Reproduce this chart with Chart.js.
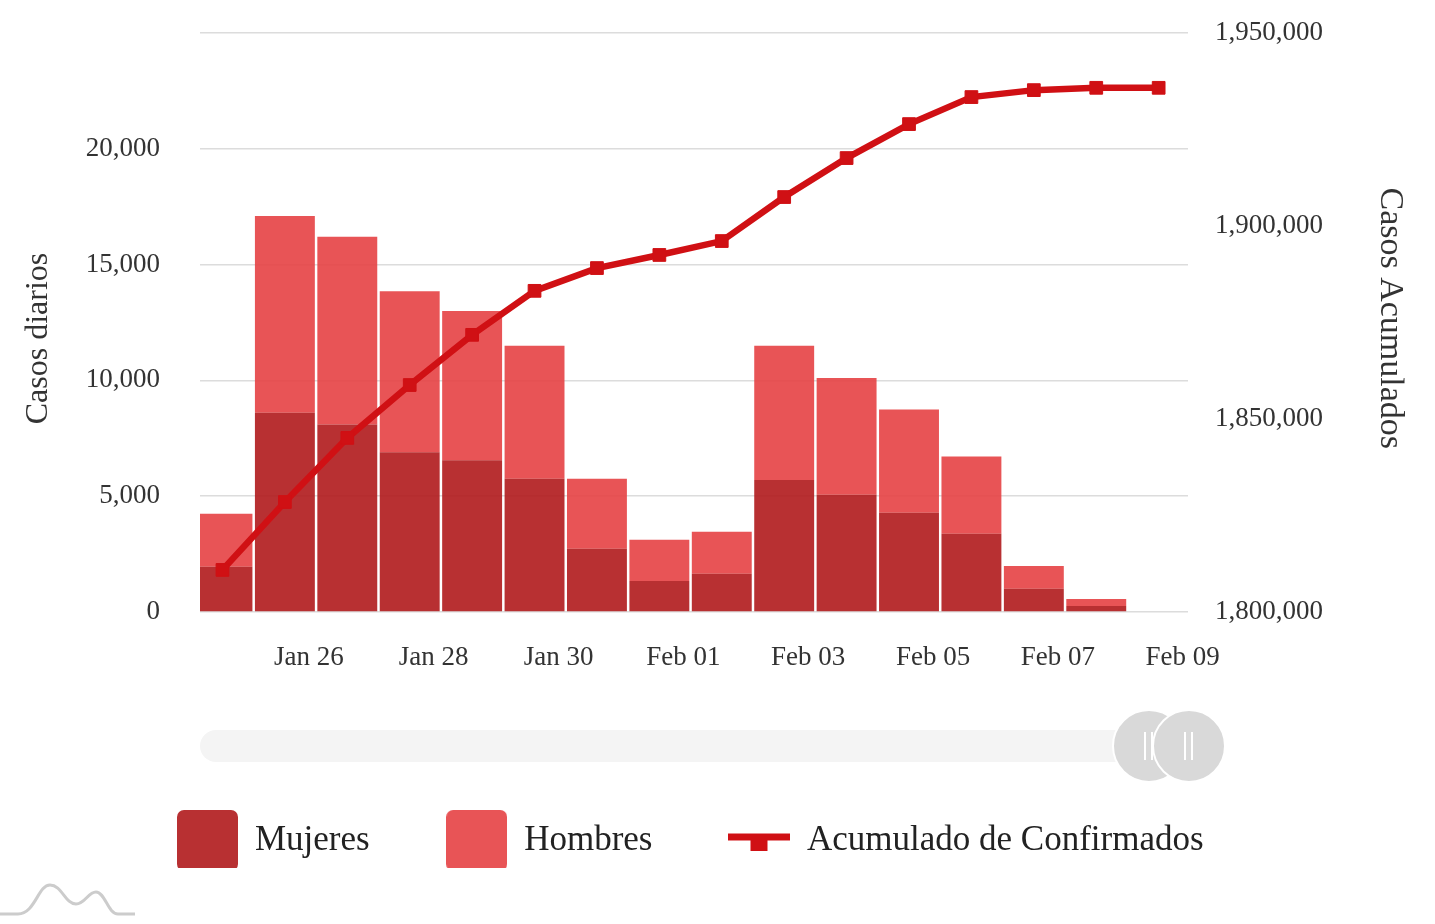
<!DOCTYPE html>
<html lang="es">
<head>
<meta charset="UTF-8">
<title>Casos diarios y acumulados</title>
<script src="https://cdn.jsdelivr.net/npm/chart.js"></script>
<style>
  html, body { margin: 0; padding: 0; background: #fff; }
</style>
</head>
<body>
<canvas id="myChart" width="1435" height="924"></canvas>
<script>
const dias = ['Jan 25', 'Jan 26', 'Jan 27', 'Jan 28', 'Jan 29', 'Jan 30', 'Jan 31', 'Feb 01',
              'Feb 02', 'Feb 03', 'Feb 04', 'Feb 05', 'Feb 06', 'Feb 07', 'Feb 08', 'Feb 09'];
const mujeres = [1950, 8600, 8100, 6900, 6550, 5750, 2730, 1340, 1650, 5700, 5060, 4290, 3380, 1000, 260, 0];
const hombres = [2290, 8500, 8100, 6950, 6450, 5750, 3020, 1780, 1810, 5800, 5040, 4450, 3330, 990, 300, 0];
const acumulado = [1810900, 1828500, 1845100, 1858800, 1871800, 1883200, 1889100, 1892500,
                   1896100, 1907500, 1917600, 1926400, 1933400, 1935200, 1935800, 1935800];
const diasConEtiqueta = ['Jan 26', 'Jan 28', 'Jan 30', 'Feb 01', 'Feb 03', 'Feb 05', 'Feb 07', 'Feb 09'];

const colorMujeres = 'rgba(176, 25, 28, 0.9)';
const colorHombres = 'rgba(229, 65, 68, 0.9)';
const colorLinea = '#d01014';
const fuente = "'Liberation Serif', 'Times New Roman', serif";

// iconos de la leyenda
function cuadro(color) {
    const c = document.createElement('canvas');
    c.width = 61; c.height = 61;
    const g = c.getContext('2d');
    g.fillStyle = color;
    g.beginPath();
    g.roundRect(0, 0, 61, 61, 7);
    g.fill();
    return c;
}
function iconoLinea(color) {
    const c = document.createElement('canvas');
    c.width = 62; c.height = 20;
    const g = c.getContext('2d');
    g.fillStyle = color;
    g.fillRect(0, 3, 62, 7);
    g.fillRect(22, 3, 17, 17);
    return c;
}

// barra de desplazamiento y logo (solo decoracion)
const decoracion = {
    id: 'decoracion',
    afterLayout(chart) {
        chart.legend.left -= 54;
    },
    afterDraw(chart) {
        const ctx = chart.ctx;
        ctx.save();
        ctx.fillStyle = '#f4f4f4';
        ctx.beginPath();
        ctx.roundRect(200, 730, 960, 32, 16);
        ctx.fill();
        [1149, 1189].forEach(cx => {
            ctx.beginPath();
            ctx.arc(cx, 746, 36, 0, Math.PI * 2);
            ctx.fillStyle = '#d9d9d9';
            ctx.fill();
            ctx.lineWidth = 2;
            ctx.strokeStyle = '#ffffff';
            ctx.stroke();
            ctx.beginPath();
            ctx.moveTo(cx - 4, 732); ctx.lineTo(cx - 4, 760);
            ctx.moveTo(cx + 3, 732); ctx.lineTo(cx + 3, 760);
            ctx.lineWidth = 2;
            ctx.stroke();
        });
        ctx.strokeStyle = '#cccccc';
        ctx.lineWidth = 3;
        ctx.beginPath();
        ctx.moveTo(0, 914);
        ctx.lineTo(18, 914);
        ctx.bezierCurveTo(35, 914, 38, 885, 50, 885);
        ctx.bezierCurveTo(62, 885, 65, 904, 76, 904);
        ctx.bezierCurveTo(85, 904, 88, 892, 96, 892);
        ctx.bezierCurveTo(105, 892, 108, 914, 118, 914);
        ctx.lineTo(135, 914);
        ctx.stroke();
        ctx.restore();
    }
};

const ctx = document.getElementById('myChart').getContext('2d');
const myChart = new Chart(ctx, {
    type: 'bar',
    data: {
        datasets: [{
            type: 'line',
            label: 'Acumulado de Confirmados',
            data: acumulado.map((v, i) => ({ x: i, y: v })),
            yAxisID: 'y1',
            order: 0,
            borderColor: colorLinea,
            backgroundColor: colorLinea,
            borderWidth: 6.5,
            tension: 0,
            pointStyle: 'rect',
            pointRadius: 9,
            pointBorderWidth: 1,
            pointBackgroundColor: colorLinea,
            pointBorderColor: colorLinea,
            clip: 0
        }, {
            label: 'Mujeres',
            data: mujeres.map((v, i) => ({ x: i, y: v })),
            yAxisID: 'y',
            order: 1,
            backgroundColor: colorMujeres,
            categoryPercentage: 0.96,
            barPercentage: 1,
            clip: 0
        }, {
            label: 'Hombres',
            data: hombres.map((v, i) => ({ x: i, y: v })),
            yAxisID: 'y',
            order: 2,
            backgroundColor: colorHombres,
            categoryPercentage: 0.96,
            barPercentage: 1,
            clip: 0
        }]
    },
    options: {
        responsive: false,
        animation: false,
        layout: { padding: { top: 33, left: 0, right: 0, bottom: 56 } },
        scales: {
            x: {
                type: 'linear',
                offset: false,
                min: -0.36,
                max: 15.47,
                stacked: true,
                grid: { display: false, drawTicks: false, offset: false },
                border: { display: false },
                afterBuildTicks: (scale) => {
                    scale.ticks = diasConEtiqueta.map(d => ({ value: dias.indexOf(d) }));
                },
                afterFit: (scale) => { scale.height = 134; },
                ticks: {
                    autoSkip: false,
                    maxRotation: 0,
                    labelOffset: 24,
                    padding: 30,
                    color: '#333',
                    font: { family: fuente, size: 27 },
                    callback: (v) => dias[v]
                }
            },
            y: {
                position: 'left',
                stacked: true,
                min: 0,
                max: 25000,
                grid: { color: '#dcdcdc', lineWidth: 1.5, drawTicks: true, tickLength: 30, tickColor: 'transparent' },
                border: { display: false },
                afterFit: (scale) => { scale.width = 200; },
                ticks: {
                    stepSize: 5000,
                    padding: 10,
                    color: '#333',
                    font: { family: fuente, size: 27 },
                    callback: (v) => v === 25000 ? '' : v.toLocaleString('en-US')
                },
                title: {
                    display: true,
                    text: 'Casos diarios    ',
                    color: '#333',
                    font: { family: fuente, size: 32 },
                    padding: { top: 19, bottom: 0 }
                }
            },
            y1: {
                position: 'right',
                min: 1800000,
                max: 1950000,
                grid: { drawOnChartArea: false, drawTicks: true, tickLength: 17, tickColor: 'transparent' },
                border: { display: false },
                afterFit: (scale) => { scale.width = 247; },
                ticks: {
                    stepSize: 50000,
                    padding: 10,
                    color: '#333',
                    font: { family: fuente, size: 27 },
                    callback: (v) => v.toLocaleString('en-US')
                },
                title: {
                    display: true,
                    text: 'Casos Acumulados ',
                    color: '#333',
                    font: { family: fuente, size: 34 },
                    padding: { top: 25, bottom: 0 }
                }
            }
        },
        plugins: {
            tooltip: { enabled: false },
            legend: {
                position: 'bottom',
                labels: {
                    usePointStyle: true,
                    pointStyleWidth: 60,
                    padding: 77,
                    font: { family: fuente, size: 35 },
                    color: '#222',
                    generateLabels: () => [
                        { text: 'Mujeres', pointStyle: cuadro(colorMujeres), fillStyle: colorMujeres, strokeStyle: 'transparent', lineWidth: 0, fontColor: '#222', hidden: false, datasetIndex: 1 },
                        { text: 'Hombres', pointStyle: cuadro(colorHombres), fillStyle: colorHombres, strokeStyle: 'transparent', lineWidth: 0, fontColor: '#222', hidden: false, datasetIndex: 2 },
                        { text: 'Acumulado de Confirmados', pointStyle: iconoLinea(colorLinea), fillStyle: colorLinea, strokeStyle: 'transparent', lineWidth: 0, fontColor: '#222', hidden: false, datasetIndex: 0 }
                    ]
                }
            }
        }
    },
    plugins: [decoracion]
});
</script>
</body>
</html>
